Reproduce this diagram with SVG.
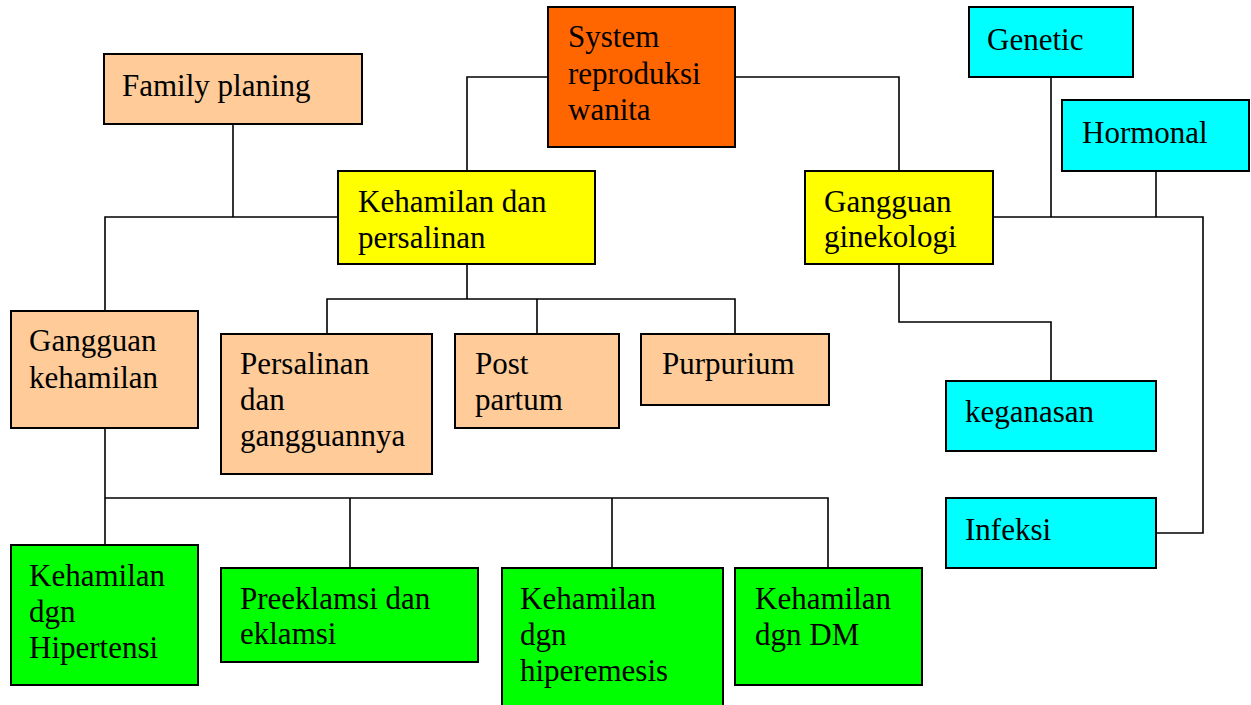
<svg xmlns="http://www.w3.org/2000/svg" width="1251" height="705" viewBox="0 0 1251 705">
<style>
.box{stroke:#000;stroke-width:2}
.peach{fill:#FFCC99}.orange{fill:#FF6600}.yellow{fill:#FFFF00}.cyan{fill:#00FFFF}.green{fill:#00FF00}
text{font-family:"Liberation Serif","Times New Roman",serif;font-size:31px;fill:#000}
.conn{fill:none;stroke:#000;stroke-width:1.6}
</style>
<rect width="1251" height="705" fill="#fff"/>
<g id="connectors">
<path class="conn" d="M548 77H467V171"/>
<path class="conn" d="M735 77H899V171"/>
<path class="conn" d="M233 124V217"/>
<path class="conn" d="M338 217H105V311"/>
<path class="conn" d="M467 264V299"/>
<path class="conn" d="M327 334V299H735V334"/>
<path class="conn" d="M537 299V334"/>
<path class="conn" d="M105 428V545"/>
<path class="conn" d="M105 498H828V568"/>
<path class="conn" d="M350 498V568"/>
<path class="conn" d="M612 498V568"/>
<path class="conn" d="M993 217H1203V533H1156"/>
<path class="conn" d="M1051 77V217"/>
<path class="conn" d="M1156 171V217"/>
<path class="conn" d="M899 264V322H1051V381"/>
</g>
<g id="system">
<rect class="box orange" x="548" y="7" width="187" height="140"/>
<text x="568" y="47">System</text>
<text x="568" y="83.5">reproduksi</text>
<text x="568" y="120">wanita</text>
</g>
<g id="family-planing">
<rect class="box peach" x="104" y="54" width="258" height="70"/>
<text x="122" y="96">Family planing</text>
</g>
<g id="kehamilan-persalinan">
<rect class="box yellow" x="338" y="171" width="257" height="93"/>
<text x="358" y="212">Kehamilan dan</text>
<text x="358" y="248">persalinan</text>
</g>
<g id="gangguan-ginekologi">
<rect class="box yellow" x="805" y="171" width="188" height="93"/>
<text x="824" y="212">Gangguan</text>
<text x="824" y="247">ginekologi</text>
</g>
<g id="genetic">
<rect class="box cyan" x="969" y="7" width="164" height="70"/>
<text x="987" y="50">Genetic</text>
</g>
<g id="hormonal">
<rect class="box cyan" x="1062" y="100" width="187" height="71"/>
<text x="1082" y="143">Hormonal</text>
</g>
<g id="keganasan">
<rect class="box cyan" x="946" y="381" width="210" height="70"/>
<text x="965" y="422">keganasan</text>
</g>
<g id="infeksi">
<rect class="box cyan" x="946" y="498" width="210" height="70"/>
<text x="965" y="540">Infeksi</text>
</g>
<g id="gangguan-kehamilan">
<rect class="box peach" x="11" y="311" width="187" height="117"/>
<text x="29" y="351">Gangguan</text>
<text x="29" y="388">kehamilan</text>
</g>
<g id="persalinan">
<rect class="box peach" x="221" y="334" width="211" height="140"/>
<text x="240" y="374">Persalinan</text>
<text x="240" y="410">dan</text>
<text x="240" y="446">gangguannya</text>
</g>
<g id="post-partum">
<rect class="box peach" x="455" y="334" width="164" height="94"/>
<text x="475" y="374">Post</text>
<text x="475" y="410">partum</text>
</g>
<g id="purpurium">
<rect class="box peach" x="641" y="334" width="188" height="71"/>
<text x="662" y="374">Purpurium</text>
</g>
<g id="hipertensi">
<rect class="box green" x="11" y="545" width="187" height="140"/>
<text x="29" y="586">Kehamilan</text>
<text x="29" y="622">dgn</text>
<text x="29" y="658">Hipertensi</text>
</g>
<g id="preeklamsi">
<rect class="box green" x="221" y="568" width="257" height="94"/>
<text x="240" y="609">Preeklamsi dan</text>
<text x="240" y="644">eklamsi</text>
</g>
<g id="hiperemesis">
<rect class="box green" x="502" y="568" width="221" height="150"/>
<text x="520" y="609">Kehamilan</text>
<text x="520" y="645">dgn</text>
<text x="520" y="681">hiperemesis</text>
</g>
<g id="dm">
<rect class="box green" x="735" y="568" width="187" height="117"/>
<text x="755" y="609">Kehamilan</text>
<text x="755" y="645">dgn DM</text>
</g>
</svg>
